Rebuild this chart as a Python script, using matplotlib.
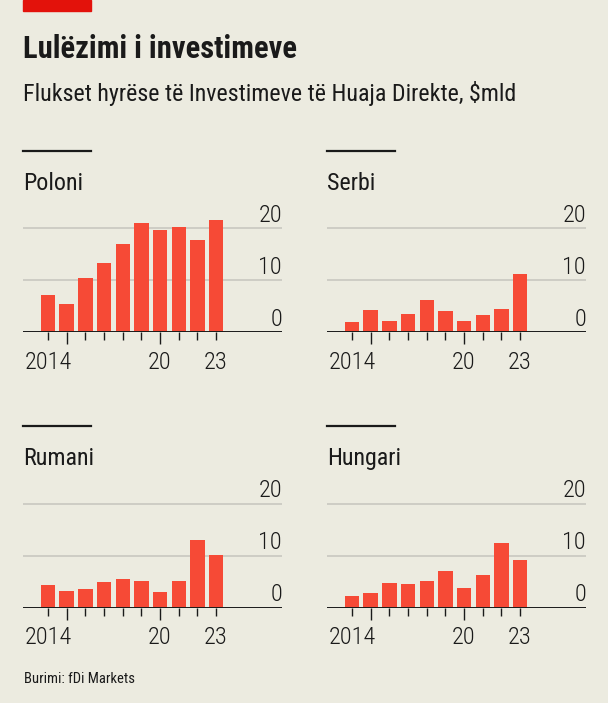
import numpy as np
import matplotlib
matplotlib.use("Agg")
import matplotlib.pyplot as plt

# data, $bn FDI inflows
years = list(range(2014, 2024))
countries = ["Poloni", "Serbi", "Rumani", "Hungari"]
poland = [7.1, 5.4, 10.3, 13.3, 16.9, 20.9, 19.7, 20.2, 17.7, 21.5]
serbia = [1.9, 4.3, 2.1, 3.5, 6.2, 4.1, 2.1, 3.3, 4.4, 11.2]
romania = [4.4, 3.3, 3.6, 4.9, 5.5, 5.1, 3.1, 5.1, 13.0, 10.1]
hungary = [2.3, 2.8, 4.8, 4.6, 5.1, 7.0, 3.7, 6.2, 12.5, 9.2]
series = [poland, serbia, romania, hungary]
xlabels = {2014: "2014", 2020: "20", 2023: "23"}
yticks = [0, 10, 20]

fam = ["Roboto Condensed", "DejaVu Sans"]
bg = "#ECEBE0"
red = "#F64A36"
ink = "#1a1a1a"
W, H = 608, 703

fig = plt.figure(figsize=(W / 100, H / 100), dpi=100, facecolor=bg)

def fx(px):
    return px / W

def fy(py):
    return 1 - py / H

# red tab + headings
fig.patches.append(plt.Rectangle((fx(23), fy(11)), fx(68), 11 / H, color="#E3120B",
                                 transform=fig.transFigure, figure=fig))
fig.text(fx(23), fy(58.3), "Lulëzimi i investimeve", family=fam, weight="bold",
         fontsize=22, color=ink, va="baseline")
fig.text(fx(23), fy(101), "Flukset hyrëse të Investimeve të Huaja Direkte, $mld",
         family=fam, fontsize=17.3, color=ink, va="baseline")
fig.text(fx(24), fy(683), "Burimi: fDi Markets", family=fam, fontsize=10.5,
         color=ink, va="baseline")

px_per_unit = 5.2  # 10 units = 52 px
for i, (name, vals) in enumerate(zip(countries, series)):
    col, row = i % 2, i // 2
    x0 = 23 + col * 304
    base = 332 if row == 0 else 607.7
    top_line = 150.7 if row == 0 else 426
    ymax = 25
    ax = fig.add_axes([fx(x0), fy(base), fx(259), ymax * px_per_unit / H])
    ax.set_facecolor("none")
    ax.set_xlim(2012.66, 2012.66 + 259 / 18.67)
    ax.set_ylim(0, ymax)
    ax.bar(years, vals, width=0.77, color=red, zorder=3)
    for y in yticks:
        if y > 0:
            ax.axhline(y, color="#C9C8C0", lw=1.2, zorder=1)
        ax.text(1.0, y + 1.2, str(y), transform=ax.get_yaxis_transform(),
                ha="right", va="baseline", fontsize=17.5, family=fam,
                weight="light", color=ink)
    ax.axhline(0, color=ink, lw=1.4, zorder=4)
    for s in ax.spines.values():
        s.set_visible(False)
    ax.set_yticks([])
    ax.set_xticks(years)
    ax.set_xticklabels([xlabels.get(y, "") for y in years], fontsize=17.5,
                       family=fam, weight="light", color=ink)
    ax.tick_params(axis="x", length=5.5, width=1, color=ink, pad=8)
    # longer ticks on 2015 and 2020
    for t, y in zip(ax.xaxis.get_major_ticks(), years):
        if y in (2015, 2020):
            t.tick1line.set_markersize(8.5)
    # short black rule above the panel label
    fig.add_artist(plt.Line2D([fx(x0), fx(x0 + 68)], [fy(top_line), fy(top_line)],
                              color=ink, lw=1.6))
    fig.text(fx(x0), fy(top_line + 39), name, family=fam, fontsize=17.3,
             color=ink, va="baseline")

fig.savefig("out.png", dpi=100, facecolor=bg)
